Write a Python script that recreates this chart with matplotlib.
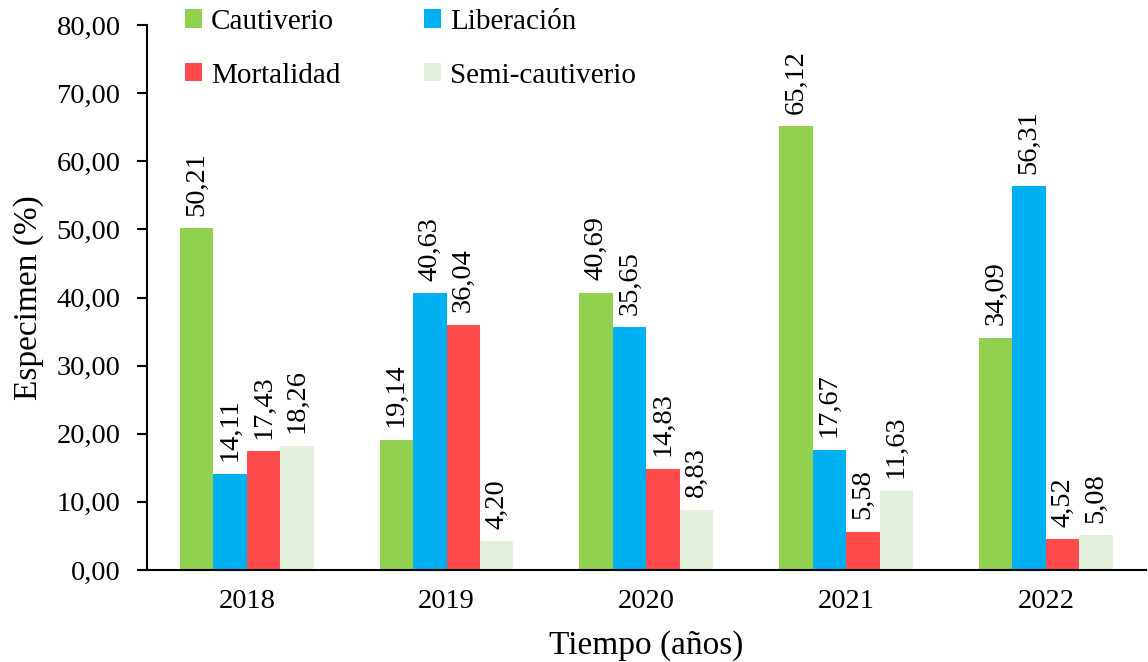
import matplotlib.pyplot as plt
import numpy as np

plt.rcParams['font.family'] = ['Liberation Serif', 'DejaVu Serif']

years = ["2018", "2019", "2020", "2021", "2022"]
cautiverio = [50.21, 19.14, 40.69, 65.12, 34.09]
liberacion = [14.11, 40.63, 35.65, 17.67, 56.31]
mortalidad = [17.43, 36.04, 14.83, 5.58, 4.52]
semi = [18.26, 4.20, 8.83, 11.63, 5.08]

series = [("Cautiverio", cautiverio, "#92D050"),
          ("Liberación", liberacion, "#00B0F0"),
          ("Mortalidad", mortalidad, "#FF4B4B"),
          ("Semi-cautiverio", semi, "#E2EFDA")]

fig = plt.figure(figsize=(11.48, 6.62), dpi=100)
ax = fig.add_axes([0.128, 0.139, 0.87, 0.823])

x = np.arange(len(years))
w = 0.1675
handles = []
for i, (name, vals, col) in enumerate(series):
    pos = x + (i - 1.5) * w
    bars = ax.bar(pos, vals, w, color=col, label=name)
    handles.append(bars)
    for b, v in zip(bars, vals):
        ax.annotate(f"{v:.2f}".replace(".", ","),
                    (b.get_x() + b.get_width() / 2, v),
                    xytext=(0, 9), textcoords="offset points",
                    rotation=90, ha="center", va="bottom", fontsize=20.5)

ax.set_xlim(-0.5, 4.5)
ax.set_ylim(0, 80)
ax.set_yticks(np.arange(0, 81, 10))
ax.set_yticklabels([f"{t:.2f}".replace(".", ",") for t in np.arange(0, 81, 10)], fontsize=20.5)
ax.set_xticks(x)
ax.set_xticklabels(years, fontsize=20.5)
ax.tick_params(axis="x", length=0, pad=14)
ax.tick_params(axis="y", length=7, width=1.5, direction="out", pad=12)
ax.spines["top"].set_visible(False)
ax.spines["right"].set_visible(False)
ax.spines["left"].set_linewidth(1.5)
ax.spines["bottom"].set_linewidth(1.5)
ax.set_xlabel("Tiempo (años)", fontsize=24, labelpad=11)
ax.set_ylabel("Especimen (%)", fontsize=24, labelpad=9)

# legend filled row by row: Cautiverio, Liberación / Mortalidad, Semi-cautiverio
order = [0, 2, 1, 3]
ax.legend([handles[k] for k in order], [series[k][0] for k in order],
          loc="upper left", bbox_to_anchor=(0.038, 1.03), ncol=2, frameon=False,
          fontsize=21, handlelength=0.6, handleheight=0.6, handletextpad=0.3,
          columnspacing=2.85, labelspacing=0.95, borderpad=0, borderaxespad=0)

fig.savefig("out.png", dpi=100)
